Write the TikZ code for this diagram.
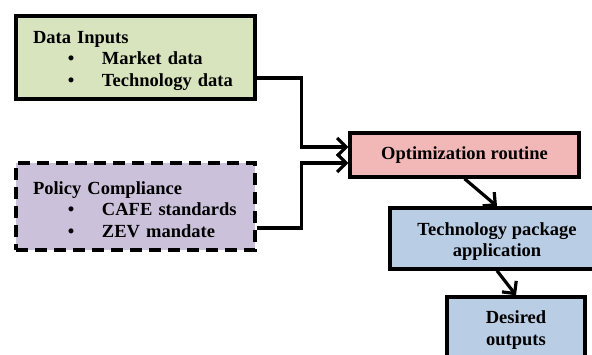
\documentclass[tikz,border=0pt]{standalone}
\usepackage{fontspec}
\setmainfont{Liberation Serif}
\usepackage{tikz}
\usetikzlibrary{arrows.meta}
\definecolor{ingreen}{HTML}{D7E4BD}
\definecolor{polpurple}{HTML}{CCC1DA}
\definecolor{optpink}{HTML}{F2B8B8}
\definecolor{techblue}{HTML}{B9CDE5}
\newcommand\bul[1]{\makebox[69pt][l]{\hspace{35pt}\textbullet}#1}
\newcommand\tallstrut{\rule{0pt}{19pt}}
\tikzset{box/.style={draw,line width=3.4pt,rectangle,inner sep=0pt,
		font=\fontsize{18.5}{21.5}\selectfont\bfseries},
	listbox/.style={box,text width=205pt,inner xsep=17pt,align=left,
		minimum height=#1},
	midbox/.style={box,align=center},
	conn/.style={line width=3.2pt,-{Straight Barb[length=9pt,width=18pt,line width=3.2pt]}}}

\begin{document}
\begin{tikzpicture}[x=1pt,y=-1pt]
\useasboundingbox (0,0) rectangle (592,355);
\clip (0,0) rectangle (592,355);
\node [listbox=83pt,fill=ingreen] (a) at (135.5,57.5)
  {\tallstrut Data Inputs\\ \bul{Market data}\\ \bul{Technology data}};
\node [listbox=87pt,fill=polpurple,dash pattern=on 12pt off 7pt] (b) at (135.5,206.5)
  {\tallstrut Policy Compliance\\ \bul{CAFE standards}\\ \bul{ZEV mandate}};
\node [midbox,fill=optpink,minimum width=229pt,minimum height=44pt] (o) at (464.5,155)
  {Optimization routine};
\node [midbox,fill=techblue,minimum width=214pt,minimum height=61pt] (t) at (497,238.5)
  {\tallstrut Technology package\\application};
\node [midbox,fill=techblue,minimum width=138pt,minimum height=66pt] (d) at (516,330)
  {Desired\\outputs};
% inputs into the optimizer
\draw [conn] ([yshift=-20.5pt]a.east) -| ([xshift=-47pt,yshift=8pt]o.west) -- ([yshift=8pt]o.west);
\draw [conn] ([yshift=-21.5pt]b.east) -| ([xshift=-47pt,yshift=-8pt]o.west) -- ([yshift=-8pt]o.west);
\draw [conn] (o.south) -- (t.north);
\draw [conn] (t.south) -- (d.north);
\end{tikzpicture}
\end{document}
